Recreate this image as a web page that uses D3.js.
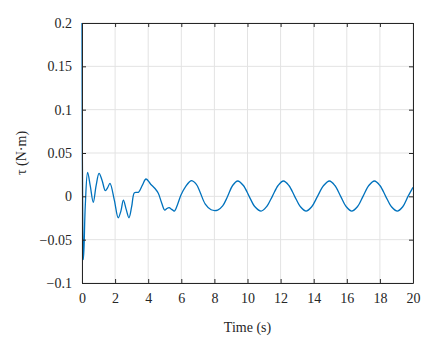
<!DOCTYPE html>
<html><head><meta charset="utf-8">
<script src="https://cdn.jsdelivr.net/npm/d3@7"></script>
<style>body{margin:0;background:#fff;} svg text{font-family:'Liberation Serif','Times New Roman',serif;}</style>
</head><body>
<script>
const timeS = [0, 0.02, 0.05, 0.08, 0.12, 0.2, 0.34, 0.5, 0.68, 0.85, 1.03, 1.22, 1.41, 1.55, 1.69, 1.95, 2.19, 2.35, 2.50, 2.67, 2.84, 3.0, 3.16, 3.30, 3.42, 3.65, 3.87, 4.15, 4.41, 4.61, 4.82, 5.0, 5.13, 5.26, 5.42, 5.58, 5.78, 5.98, 6.25, 6.6, 6.9, 7.13, 7.45, 7.8, 8.2, 8.5, 8.8, 9.1, 9.41, 9.75, 10.1, 10.45, 10.82, 11.15, 11.5, 11.85, 12.17, 12.5, 12.85, 13.2, 13.54, 13.88, 14.23, 14.6, 14.95, 15.28, 15.63, 15.97, 16.3, 16.64, 16.98, 17.33, 17.67, 18.0, 18.35, 18.7, 19.05, 19.38, 19.7, 20.0];
const torque = [0.2, 0.06, -0.04, -0.073, -0.06, -0.01, 0.0277, 0.012, -0.0069, 0.012, 0.0266, 0.018, 0.0065, 0.01, 0.015, -0.004, -0.0247, -0.017, -0.0043, -0.015, -0.0247, -0.012, 0.004, 0.0046, 0.0048, 0.013, 0.020, 0.014, 0.009, 0.0035, -0.008, -0.0158, -0.014, -0.013, -0.015, -0.017, -0.009, 0.0015, 0.011, 0.018, 0.014, 0.005, -0.009, -0.0155, -0.0158, -0.011, 0.0, 0.0125, 0.0177, 0.0125, 0.0, -0.012, -0.017, -0.012, 0.0, 0.0125, 0.0177, 0.0125, 0.0, -0.012, -0.017, -0.012, 0.0, 0.0125, 0.0177, 0.0125, 0.0, -0.012, -0.017, -0.012, 0.0, 0.0125, 0.0177, 0.0125, 0.0, -0.012, -0.017, -0.012, 0.0, 0.0104];
const xTicks = [0, 2, 4, 6, 8, 10, 12, 14, 16, 18, 20];
const yTicks = [-0.1, -0.05, 0, 0.05, 0.1, 0.15, 0.2];
const yTickLabels = ["\u22120.1", "\u22120.05", "0", "0.05", "0.1", "0.15", "0.2"];
const xLabel = "Time (s)";
const yLabel = "\u03c4 (N\u00b7m)";

const W = 440, H = 344;
const m = {left: 82, right: 27, top: 23, bottom: 61};
const iw = W - m.left - m.right, ih = H - m.top - m.bottom;
const font = "'Liberation Serif','Times New Roman',serif";
const axisColor = "#262626";

const svg = d3.select("body").append("svg").attr("width", W).attr("height", H);
const g = svg.append("g").attr("transform", `translate(${m.left},${m.top})`);

const x = d3.scaleLinear().domain([0, 20]).range([0, iw]);
const y = d3.scaleLinear().domain([-0.1, 0.2]).range([ih, 0]);

// grid
g.append("g").selectAll("line").data(xTicks).join("line")
  .attr("x1", d => x(d)).attr("x2", d => x(d)).attr("y1", 0).attr("y2", ih)
  .attr("stroke", "#e3e3e3").attr("stroke-width", 1);
g.append("g").selectAll("line").data(yTicks).join("line")
  .attr("y1", d => y(d)).attr("y2", d => y(d)).attr("x1", 0).attr("x2", iw)
  .attr("stroke", "#e3e3e3").attr("stroke-width", 1);

// line
const data = timeS.map((t, i) => [t, torque[i]]);
g.append("path").datum(data)
  .attr("fill", "none").attr("stroke", "#0072BD").attr("stroke-width", 1.3)
  .attr("d", d3.line().x(d => x(d[0])).y(d => y(d[1])).curve(d3.curveCatmullRom.alpha(0.5)));

// axes
function styleAxis(sel) {
  sel.attr("font-family", font).attr("font-size", 14);
  sel.selectAll("path").attr("stroke", axisColor);
  sel.selectAll("line").attr("stroke", axisColor);
  sel.selectAll("text").attr("fill", axisColor).attr("font-family", font).attr("font-size", 14);
}
const xAxis = g.append("g").attr("transform", `translate(0,${ih})`)
  .call(d3.axisBottom(x).tickValues(xTicks).tickSizeInner(-4).tickSizeOuter(0).tickPadding(10).tickFormat(d3.format("d")));
styleAxis(xAxis);
const yAxis = g.append("g")
  .call(d3.axisLeft(y).tickValues(yTicks).tickSizeInner(-4).tickSizeOuter(0).tickPadding(10).tickFormat((d, i) => yTickLabels[i]));
styleAxis(yAxis);
const xTop = g.append("g")
  .call(d3.axisTop(x).tickValues(xTicks).tickSizeInner(-4).tickSizeOuter(0).tickFormat(""));
styleAxis(xTop);
const yRight = g.append("g").attr("transform", `translate(${iw},0)`)
  .call(d3.axisRight(y).tickValues(yTicks).tickSizeInner(-4).tickSizeOuter(0).tickFormat(""));
styleAxis(yRight);

// labels
svg.append("text").attr("x", m.left + iw / 2).attr("y", 332)
  .attr("text-anchor", "middle").attr("fill", axisColor)
  .attr("font-family", font).attr("font-size", 14).text(xLabel);
svg.append("text").attr("transform", `translate(26,${m.top + ih / 2}) rotate(-90)`)
  .attr("text-anchor", "middle").attr("fill", axisColor)
  .attr("font-family", font).attr("font-size", 14).text(yLabel);
</script>
</body></html>
